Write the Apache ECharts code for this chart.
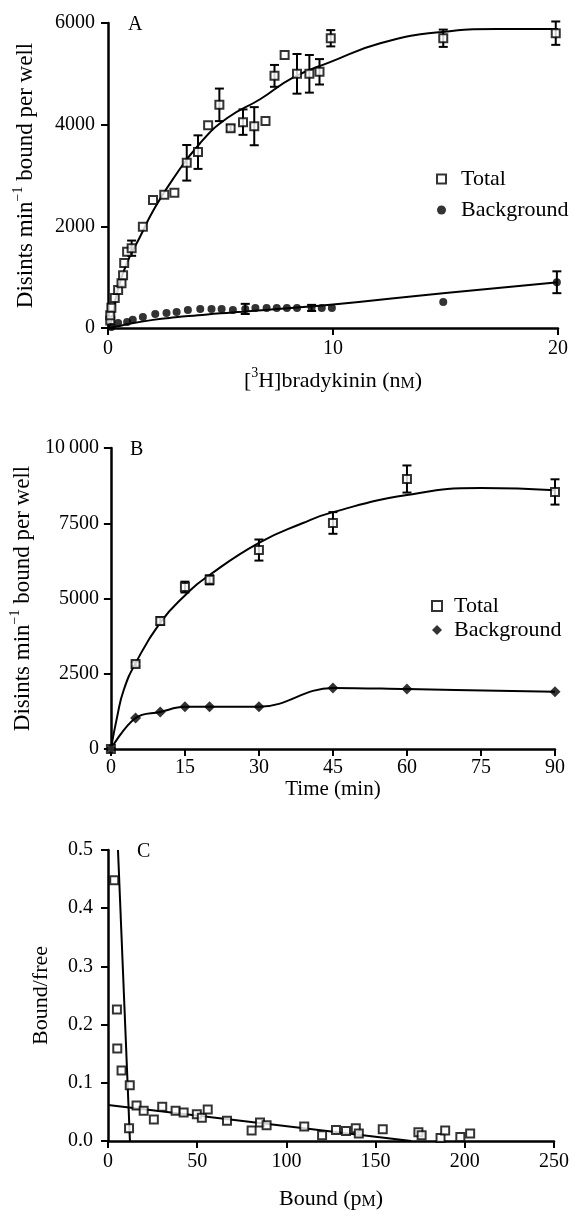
<!DOCTYPE html>
<html>
<head>
<meta charset="utf-8">
<script src="https://cdn.jsdelivr.net/npm/echarts@6/dist/echarts.min.js"></script>
<style>
html,body{margin:0;padding:0;background:#fff;}
#chart{width:572px;height:1211px;}
</style>
</head>
<body>
<div id="chart"></div>
<script>
// ---------- Panel A: binding vs [3H]bradykinin (nM) ----------
const aTotalX   = [0.1, 0.1, 0.15, 0.3, 0.45, 0.6, 0.67, 0.72, 0.85, 1.05, 1.55, 2.0, 2.5, 2.95, 3.5, 4.0, 4.45, 4.95, 5.45, 6.0, 6.5, 7.0, 7.4, 7.85, 8.4, 8.95, 9.4, 9.9, 14.9, 19.9];
const aTotalY   = [150, 250, 400, 590, 750, 880, 1040, 1280, 1500, 1570, 1990, 2520, 2620, 2660, 3250, 3460, 3990, 4390, 3930, 4050, 3970, 4070, 4960, 5370, 5000, 5000, 5040, 5700, 5700, 5800];
const aTotalErr = [0, 0, 0, 0, 0, 0, 0, 0, 0, 150, 0, 0, 0, 0, 350, 330, 0, 320, 60, 250, 375, 0, 215, 0, 390, 370, 250, 160, 170, 230];
const aBgX   = [0.15, 0.45, 0.85, 1.1, 1.55, 2.1, 2.6, 3.05, 3.55, 4.1, 4.6, 5.05, 5.55, 6.1, 6.55, 7.05, 7.5, 7.95, 8.4, 9.05, 9.5, 9.95, 14.9, 19.95];
const aBgY   = [20, 100, 120, 160, 215, 275, 295, 315, 355, 375, 375, 375, 355, 375, 395, 395, 395, 395, 395, 395, 395, 395, 510, 900];
const aBgErr = [0, 0, 0, 0, 0, 0, 0, 0, 0, 0, 0, 0, 0, 100, 0, 0, 0, 0, 0, 60, 0, 0, 0, 215];
// fitted curves
const aTotalCurveX = [0, 0.17, 0.4, 0.84, 1.42, 2.0, 2.84, 4.1, 5.3, 6.76, 8.2, 9.87, 12.1, 14.76, 17.3, 20];
const aTotalCurveY = [0, 160, 690, 1280, 1790, 2300, 2900, 3640, 4130, 4500, 4920, 5230, 5600, 5820, 5880, 5880];
const aBgCurveX = [0, 0.5, 1, 2, 3, 4, 5, 6, 7, 8, 10, 15, 20];
const aBgCurveY = [0, 40, 90, 160, 210, 250, 290, 320, 355, 390, 460, 690, 900];

// ---------- Panel B: binding vs time (min) ----------
const bTime     = [0, 5, 10, 15, 20, 30, 45, 60, 90];
const bTotal    = [0, 2820, 4250, 5380, 5620, 6610, 7510, 8970, 8540];
const bTotalErr = [0, 80, 120, 180, 150, 350, 360, 450, 420];
const bBg       = [0, 1030, 1230, 1400, 1400, 1400, 2030, 1990, 1900];
const bTotalCurveT = [0, 1.25, 2.6, 5, 10, 15, 20, 30, 38.8, 45, 60, 75, 90];
const bTotalCurveY = [0, 1060, 1960, 2850, 4200, 5100, 5780, 6850, 7500, 7870, 8440, 8670, 8600];

// ---------- Panel C: Scatchard plot ----------
const cBound = [3.5, 5, 5.2, 7.6, 12.2, 11.8, 16, 20, 25.7, 30.4, 37.9, 42.4, 49.8, 52.6, 55.9, 66.7, 80.5, 85.2, 88.9, 110, 120, 127.8, 133.4, 138.9, 140.6, 154, 174, 175.8, 186.4, 189, 197.5, 203];
const cRatio = [0.448, 0.226, 0.159, 0.121, 0.096, 0.022, 0.061, 0.052, 0.037, 0.059, 0.052, 0.049, 0.046, 0.040, 0.054, 0.035, 0.018, 0.032, 0.027, 0.025, 0.010, 0.019, 0.017, 0.022, 0.013, 0.020, 0.015, 0.010, 0.005, 0.018, 0.007, 0.013];
const cHighLineX = [5.6, 12.3];
const cHighLineY = [0.5, 0.0];
const cLowLineX  = [0, 170];
const cLowLineY  = [0.062, 0.0];

// ---------- tick labels ----------
const aYTicks = [0, 2000, 4000, 6000];
const bYLabels = {0: '0', 2500: '2500', 5000: '5000', 7500: '7500', 10000: '10\u2009000'};

// ---------- helpers ----------
const FONT = 'Liberation Serif';
const zip2 = (xs, ys) => xs.map((x, i) => [x, ys[i]]);
const zip3 = (xs, ys, es) => xs.map((x, i) => [x, ys[i], es[i]]);

function errRender(params, api) {
  const x = api.value(0), y = api.value(1), e = api.value(2);
  if (!e) return null;
  const top = api.coord([x, y + e]);
  const bot = api.coord([x, y - e]);
  const w = 4.5;
  const st = {stroke: '#000', lineWidth: 2};
  return {type: 'group', children: [
    {type: 'line', shape: {x1: top[0], y1: top[1], x2: bot[0], y2: bot[1]}, style: st},
    {type: 'line', shape: {x1: top[0] - w, y1: top[1], x2: top[0] + w, y2: top[1]}, style: st},
    {type: 'line', shape: {x1: bot[0] - w, y1: bot[1], x2: bot[0] + w, y2: bot[1]}, style: st}
  ]};
}

const axisLine = {show: true, lineStyle: {color: '#000', width: 2.5}};
const axisTick = {show: true, inside: false, length: 7, lineStyle: {color: '#000', width: 2}};
const lbl = (margin) => ({color: '#000', fontFamily: FONT, fontSize: 20, margin: margin});
const nameStyleBase = {color: '#000', fontFamily: FONT, fontSize: 22};
const rich = {
  a: {fontFamily: FONT, fontSize: 22, color: '#000', lineHeight: 26, verticalAlign: 'bottom'},
  s: {fontFamily: FONT, fontSize: 14, color: '#000', lineHeight: 14, verticalAlign: 'top'},
  m: {fontFamily: FONT, fontSize: 16, color: '#000', lineHeight: 18, verticalAlign: 'bottom'}
};
const yRich = {
  a: {fontFamily: FONT, fontSize: 23, color: '#000', lineHeight: 26, verticalAlign: 'bottom'},
  s: {fontFamily: FONT, fontSize: 14, color: '#000', lineHeight: 14, verticalAlign: 'top'}
};
const yName = '{a|Disints min}{s|\u22121}{a| bound per well}';

const openSquare = {color: '#fff', borderColor: '#000', borderWidth: 2};
const black = {color: '#000'};
const legendTextA = {color: '#000', fontFamily: FONT, fontSize: 22, padding: [0, 0, 0, 10]};
const legendTextB = {color: '#000', fontFamily: FONT, fontSize: 22, padding: [0, 0, 0, 7]};

const option = {
  animation: false,
  backgroundColor: '#fff',
  grid: [
    {left: 108, width: 450, top: 23, height: 305},
    {left: 107, width: 448, top: 448, height: 301},
    {left: 108, width: 448, top: 850, height: 298}
  ],
  xAxis: [
    {gridIndex: 0, type: 'value', min: 0, max: 20, interval: 10,
     axisLine, axisTick, splitLine: {show: false}, axisLabel: lbl(11),
     name: '{a|[}{s|3}{a|H]bradykinin (n}{m|M}{a|)}', nameLocation: 'middle', nameGap: 38,
     nameTextStyle: Object.assign({rich}, nameStyleBase)},
    {gridIndex: 1, type: 'value', min: 0, max: 90, interval: 15,
     axisLine, axisTick, splitLine: {show: false}, axisLabel: lbl(9),
     name: 'Time (min)', nameLocation: 'middle', nameGap: 29,
     nameTextStyle: Object.assign({}, nameStyleBase, {fontSize: 21})},
    {gridIndex: 2, type: 'value', min: 0, max: 250, interval: 50,
     axisLine, axisTick, splitLine: {show: false}, axisLabel: lbl(11),
     name: '{a|Bound (p}{m|M}{a|)}', nameLocation: 'middle', nameGap: 43,
     nameTextStyle: Object.assign({rich}, nameStyleBase)}
  ],
  yAxis: [
    {gridIndex: 0, type: 'value', min: aYTicks[0], max: aYTicks[aYTicks.length - 1], interval: aYTicks[1] - aYTicks[0],
     axisLine, axisTick, splitLine: {show: false},
     axisLabel: Object.assign(lbl(13), {formatter: v => String(v)}),
     name: yName, nameLocation: 'middle', nameGap: 71, nameRotate: 90,
     nameTextStyle: Object.assign({rich: yRich}, nameStyleBase)},
    {gridIndex: 1, type: 'value', min: 0, max: 10000, interval: 2500,
     axisLine, axisTick, splitLine: {show: false},
     axisLabel: Object.assign(lbl(12), {formatter: v => bYLabels[v] !== undefined ? bYLabels[v] : String(v)}),
     name: yName, nameLocation: 'middle', nameGap: 71, nameRotate: 90,
     nameTextStyle: Object.assign({rich: yRich}, nameStyleBase)},
    {gridIndex: 2, type: 'value', min: 0, max: 0.5, interval: 0.1,
     axisLine, axisTick, splitLine: {show: false},
     axisLabel: Object.assign(lbl(15), {formatter: v => v.toFixed(1)}),
     name: 'Bound/free', nameLocation: 'middle', nameGap: 56, nameRotate: 90,
     nameTextStyle: nameStyleBase}
  ],
  legend: [
    {orient: 'vertical', left: 436, top: 168, padding: 0, itemGap: 9, itemWidth: 9, itemHeight: 9,
     data: [
       {name: 'Total A', icon: 'rect', itemStyle: {color: '#fff', borderColor: '#000', borderWidth: 2}},
       {name: 'Background A', icon: 'circle', itemStyle: {color: '#000'}}
     ],
     formatter: n => n.replace(/ [AB]$/, ''), textStyle: legendTextA, selectedMode: false},
    {orient: 'vertical', left: 431, top: 595, padding: 0, itemGap: 2, itemWidth: 10, itemHeight: 10,
     data: [
       {name: 'Total B', icon: 'rect', itemStyle: {color: '#fff', borderColor: '#000', borderWidth: 2}},
       {name: 'Background B', icon: 'diamond', itemStyle: {color: '#000'}}
     ],
     formatter: n => n.replace(/ [AB]$/, ''), textStyle: legendTextB, selectedMode: false}
  ],
  graphic: [
    {type: 'text', left: 128, top: 15, style: {text: 'A', font: '20px "Liberation Serif"', fill: '#000'}},
    {type: 'text', left: 130, top: 440, style: {text: 'B', font: '20px "Liberation Serif"', fill: '#000'}},
    {type: 'text', left: 137, top: 842, style: {text: 'C', font: '20px "Liberation Serif"', fill: '#000'}}
  ],
  series: [
    // ---- A ----
    {type: 'line', xAxisIndex: 0, yAxisIndex: 0, data: zip2(aTotalCurveX, aTotalCurveY), smooth: 0.5,
     showSymbol: false, lineStyle: {color: '#000', width: 2}, z: 2, silent: true},
    {type: 'line', xAxisIndex: 0, yAxisIndex: 0, data: zip2(aBgCurveX, aBgCurveY), smooth: 0.5,
     showSymbol: false, lineStyle: {color: '#000', width: 2}, z: 2, silent: true},
    {type: 'custom', xAxisIndex: 0, yAxisIndex: 0, data: zip3(aTotalX, aTotalY, aTotalErr),
     renderItem: errRender, encode: {x: 0, y: 1}, z: 3, silent: true},
    {type: 'custom', xAxisIndex: 0, yAxisIndex: 0, data: zip3(aBgX, aBgY, aBgErr),
     renderItem: errRender, encode: {x: 0, y: 1}, z: 3, silent: true},
    {name: 'Total A', type: 'scatter', xAxisIndex: 0, yAxisIndex: 0, data: zip2(aTotalX, aTotalY),
     symbol: 'rect', symbolSize: 8, itemStyle: openSquare, z: 5},
    {name: 'Background A', type: 'scatter', xAxisIndex: 0, yAxisIndex: 0, data: zip2(aBgX, aBgY),
     symbol: 'circle', symbolSize: 8, itemStyle: black, z: 5},
    // ---- B ----
    {type: 'line', xAxisIndex: 1, yAxisIndex: 1, data: zip2(bTotalCurveT, bTotalCurveY), smooth: 0.5,
     showSymbol: false, lineStyle: {color: '#000', width: 2}, z: 2, silent: true},
    {type: 'line', xAxisIndex: 1, yAxisIndex: 1, data: zip2(bTime, bBg), smooth: 0.4,
     showSymbol: false, lineStyle: {color: '#000', width: 2}, z: 2, silent: true},
    {type: 'custom', xAxisIndex: 1, yAxisIndex: 1, data: zip3(bTime, bTotal, bTotalErr),
     renderItem: errRender, encode: {x: 0, y: 1}, z: 3, silent: true},
    {name: 'Total B', type: 'scatter', xAxisIndex: 1, yAxisIndex: 1, data: zip2(bTime, bTotal),
     symbol: 'rect', symbolSize: 8, itemStyle: openSquare, z: 5},
    {name: 'Background B', type: 'scatter', xAxisIndex: 1, yAxisIndex: 1, data: zip2(bTime, bBg),
     symbol: 'diamond', symbolSize: 11, itemStyle: black, z: 6},
    // ---- C ----
    {type: 'line', xAxisIndex: 2, yAxisIndex: 2, data: zip2(cHighLineX, cHighLineY),
     showSymbol: false, lineStyle: {color: '#000', width: 2}, z: 2, silent: true},
    {type: 'line', xAxisIndex: 2, yAxisIndex: 2, data: zip2(cLowLineX, cLowLineY),
     showSymbol: false, lineStyle: {color: '#000', width: 2}, z: 2, silent: true},
    {name: 'Scatchard', type: 'scatter', xAxisIndex: 2, yAxisIndex: 2, data: zip2(cBound, cRatio),
     symbol: 'rect', symbolSize: 8, itemStyle: openSquare, z: 5}
  ]
};

const chart = echarts.init(document.getElementById('chart'), null, {renderer: 'canvas'});
chart.setOption(option);
</script>
</body>
</html>
